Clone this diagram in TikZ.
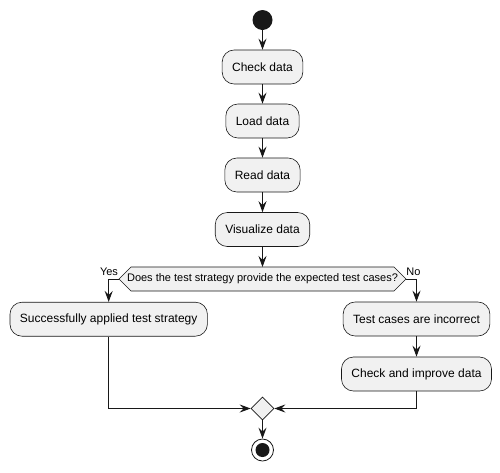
\documentclass[tikz,border=0pt]{standalone}
\usepackage{fontspec}
\setmainfont{Liberation Sans}
\usetikzlibrary{arrows.meta,shapes.geometric}
\definecolor{umlfill}{HTML}{F1F1F1}
\definecolor{umlline}{HTML}{181818}
\tikzset{
  actbox/.style={draw=umlline, fill=umlfill, line width=0.6pt, rounded corners=12pt,
    minimum height=34pt, inner xsep=10pt, inner ysep=0pt,
    font=\fontsize{12}{14}\selectfont},
  flow/.style={draw=umlline, line width=1pt,
    -{Stealth[length=11pt,width=8pt,inset=4pt]}},
  plain/.style={draw=umlline, line width=1pt},
  lbl/.style={font=\fontsize{11}{13}\selectfont, inner sep=0pt, text=black},
}
\begin{document}
\begin{tikzpicture}[x=1pt,y=-1pt]
\useasboundingbox (0,0) rectangle (500,472);
% start
\node[circle, fill=umlline, minimum size=20pt, inner sep=0pt] (start) at (262.5,20) {};
% activities
\node[actbox] (check) at (262.5,67) {Check data};
\node[actbox] (load) at (262.5,121) {Load data};
\node[actbox] (read) at (262.5,175) {Read data};
\node[actbox] (vis) at (262.5,229.5) {Visualize data};
% decision hexagon
\coordinate (decW) at (119,279);
\coordinate (decE) at (406,279);
\coordinate (decT) at (262.5,267);
\filldraw[fill=umlfill, draw=umlline, line width=0.6pt]
  (119,279) -- (131,267) -- (394,267) -- (406,279) -- (394,291) -- (131,291) -- cycle;
\node[lbl] (dec) at (262.5,279) {Does the test strategy provide the expected test cases?};
\node[lbl] (yes) at (109,272) {Yes};
\node[lbl] (no) at (413.5,272) {No};
% branches
\node[actbox] (succ) at (108.7,319.2) {Successfully applied test strategy};
\node[actbox] (tc) at (416.5,319) {Test cases are incorrect};
\node[actbox] (cid) at (416.5,374) {Check and improve data};
% merge
\node[diamond, draw=umlline, fill=umlfill, line width=0.6pt, minimum width=23pt, minimum height=23pt, inner sep=0pt] (merge) at (262.5,408.5) {};
% end
\node[circle, draw=umlline, fill=white, line width=0.8pt, minimum size=22pt, inner sep=0pt] (endo) at (262.5,450) {};
\node[circle, fill=umlline, minimum size=14pt, inner sep=0pt] (endi) at (262.5,450) {};
% connectors
\draw[flow] (start) -- (check);
\draw[flow] (check) -- (load);
\draw[flow] (load) -- (read);
\draw[flow] (read) -- (vis);
\draw[flow] (vis) -- (decT);
\draw[flow] (decW) -| (succ.north);
\draw[flow] (decE) -| (tc.north);
\draw[flow] (tc) -- (cid);
\draw[flow] (succ.south) |- (merge.west);
\draw[flow] (cid.south) |- (merge.east);
\draw[flow] (merge) -- (endo);
\end{tikzpicture}
\end{document}
